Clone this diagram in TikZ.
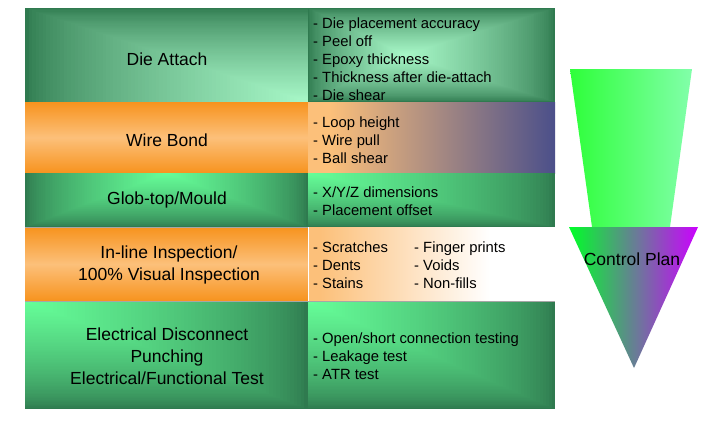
\documentclass[tikz,border=0pt]{standalone}
\usepackage{fontspec}
\setmainfont{Liberation Sans}
\definecolor{dkg}{HTML}{2F7A4F}
\definecolor{ltg}{HTML}{A8F8C8}
\definecolor{brg}{HTML}{66FF99}
\definecolor{dko}{HTML}{F7931E}
\definecolor{lto}{HTML}{FCC07A}
\definecolor{purp}{HTML}{4B4F8A}
\newcommand\rgrad[8]{%
  \foreach \gi in {0,...,79}{%
    \pgfmathsetmacro\gt{\gi/80}%
    \pgfmathsetmacro\gp{100*(\gt)^0.7}%
    \colorlet{gc}{#8!\gp!#7}%
    \fill[gc] ({#1+\gt*(#5-#1)},{#2+\gt*(#6-#2)}) rectangle ({#3+\gt*(#5-#3)},{#4+\gt*(#6-#4)});
  }}
\tikzset{
  biglabel/.style={align=center,font=\fontsize{17.5}{22}\selectfont,inner sep=0pt},
  smalllabel/.style={align=left,anchor=west,font=\fontsize{14.8}{18}\selectfont,inner sep=0pt},
  rowline/.style={draw=black!35,line width=0.6pt}
}
\begin{document}
\begin{tikzpicture}[x=1pt,y=-1pt]
\useasboundingbox (0,0) rectangle (720,421);
\fill[white] (0,0) rectangle (720,421);
% Row 1 Die attach
\rgrad{25}{8}{308}{102}{308}{102}{dkg}{ltg}
\rgrad{308}{8}{555}{102}{405}{55}{dkg}{ltg}
% Row 2 Wire bond
\shade[top color=dko,bottom color=dko,middle color=lto] (25,102) rectangle (308,173);
\fill[lto] (308,102) rectangle (330,173);
\shade[left color=lto,right color=purp] (330,102) rectangle (555,173);
% Row 3 Glob top
\rgrad{25}{173}{308}{227}{167}{173}{dkg}{brg}
\rgrad{308}{173}{555}{227}{308}{173}{dkg}{brg}
% Row 4 Inline inspection
\shade[top color=dko,bottom color=dko,middle color=lto] (25,227) rectangle (308,301);
\fill[lto] (308,227) rectangle (320,301);
\shade[left color=lto,right color=white] (320,227) rectangle (490,301);
\fill[white] (490,227) rectangle (555,301);
% Row 5 Electrical
\rgrad{25}{301}{308}{409}{25}{301}{dkg}{brg}
\rgrad{308}{301}{555}{409}{308}{301}{dkg}{brg}
% separators
\draw[rowline] (25,301) -- (555,301);
\draw[rowline] (25,227) -- (308,227);
\draw[white,line width=1pt] (308,227) -- (308,301);
% Left labels
\node[biglabel] (da) at (167,59) {Die Attach};
\node[biglabel] (wb) at (167,140) {Wire Bond};
\node[biglabel] (gt) at (167,200) {Glob-top/Mould};
\node[biglabel] (il) at (169,265) {In-line Inspection/\\100\% Visual Inspection};
\node[biglabel] (ed) at (167,356) {Electrical Disconnect\\Punching\\Electrical/Functional Test};
% Right labels
\node[smalllabel] (dal) at (313,59) {- Die placement accuracy\\- Peel off\\- Epoxy thickness\\- Thickness after die-attach\\- Die shear};
\node[smalllabel] (wbl) at (313,140) {- Loop height\\- Wire pull\\- Ball shear};
\node[smalllabel] (gtl) at (313,201) {- X/Y/Z dimensions\\- Placement offset};
\node[smalllabel] (ila) at (313,265) {- Scratches\\- Dents\\- Stains};
\node[smalllabel] (ilb) at (414,265) {- Finger prints\\- Voids\\- Non-fills};
\node[smalllabel] (edl) at (313,356) {- Open/short connection testing\\- Leakage test\\- ATR test};
% Control plan arrow
\shade[left color={rgb,255:red,46;green,255;blue,58},right color={rgb,255:red,130;green,255;blue,170}]
  (570,69) -- (692,69) -- (670,227) -- (592,227) -- cycle;
\shade[left color={rgb,255:red,0;green,255;blue,40},middle color={rgb,255:red,160;green,190;blue,195},right color={rgb,255:red,204;green,0;blue,255}]
  (569,227) -- (698,227) -- (634,368) -- cycle;
\node[font=\fontsize{17.5}{21}\selectfont,inner sep=0pt] (cp) at (632,259) {Control Plan};
\end{tikzpicture}
\end{document}
